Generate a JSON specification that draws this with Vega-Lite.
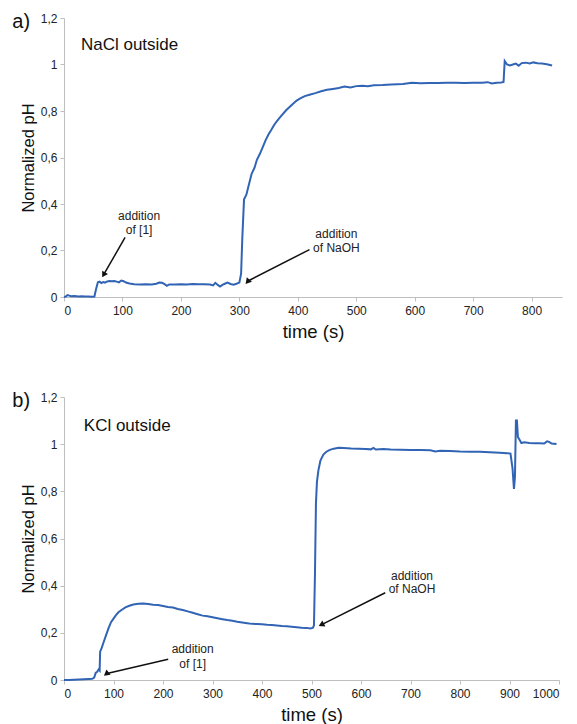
{
  "$schema": "https://vega.github.io/schema/vega-lite/v6.json",
  "padding": {"left": 12, "top": 12, "right": 5, "bottom": 0},
  "background": "white",
  "config": {
    "font": "Liberation Sans",
    "view": {"stroke": null},
    "concat": {"spacing": 50},
    "axis": {
      "grid": false,
      "domainColor": "#bfbfbf",
      "tickColor": "#bfbfbf",
      "tickSize": 4,
      "labelColor": "#222222",
      "labelFontSize": 12,
      "labelFont": "Liberation Sans",
      "titleFont": "Liberation Sans",
      "titleColor": "#111111",
      "titleFontWeight": "normal"
    }
  },
  "datasets": {
    "a": [
      {"t": 0, "v": 0.0}, {"t": 3, "v": 0.002}, {"t": 6, "v": 0.008}, {"t": 9, "v": 0.006}, {"t": 12, "v": 0.003},
      {"t": 18, "v": 0.004}, {"t": 25, "v": 0.002}, {"t": 30, "v": 0.003}, {"t": 36, "v": 0.002}, {"t": 42, "v": 0.002},
      {"t": 48, "v": 0.001}, {"t": 52, "v": 0.002}, {"t": 55, "v": 0.035}, {"t": 58, "v": 0.063}, {"t": 61, "v": 0.066},
      {"t": 64, "v": 0.06}, {"t": 67, "v": 0.064}, {"t": 70, "v": 0.062}, {"t": 74, "v": 0.067}, {"t": 78, "v": 0.069},
      {"t": 82, "v": 0.068}, {"t": 86, "v": 0.069}, {"t": 90, "v": 0.066}, {"t": 94, "v": 0.063}, {"t": 98, "v": 0.071},
      {"t": 102, "v": 0.068}, {"t": 106, "v": 0.062}, {"t": 112, "v": 0.058}, {"t": 120, "v": 0.055}, {"t": 130, "v": 0.054},
      {"t": 140, "v": 0.055}, {"t": 150, "v": 0.054}, {"t": 158, "v": 0.057}, {"t": 163, "v": 0.062}, {"t": 168, "v": 0.061},
      {"t": 172, "v": 0.055}, {"t": 176, "v": 0.048}, {"t": 180, "v": 0.054}, {"t": 190, "v": 0.054}, {"t": 200, "v": 0.055},
      {"t": 210, "v": 0.054}, {"t": 220, "v": 0.056}, {"t": 230, "v": 0.055}, {"t": 240, "v": 0.055}, {"t": 250, "v": 0.054},
      {"t": 255, "v": 0.05}, {"t": 259, "v": 0.061}, {"t": 263, "v": 0.052}, {"t": 267, "v": 0.045}, {"t": 271, "v": 0.052},
      {"t": 276, "v": 0.058}, {"t": 280, "v": 0.062}, {"t": 285, "v": 0.056}, {"t": 290, "v": 0.053}, {"t": 295, "v": 0.057},
      {"t": 300, "v": 0.062}, {"t": 303, "v": 0.1}, {"t": 305, "v": 0.25}, {"t": 308, "v": 0.42}, {"t": 312, "v": 0.44},
      {"t": 317, "v": 0.49}, {"t": 321, "v": 0.53}, {"t": 326, "v": 0.556}, {"t": 330, "v": 0.59}, {"t": 335, "v": 0.615},
      {"t": 340, "v": 0.645}, {"t": 345, "v": 0.675}, {"t": 350, "v": 0.7}, {"t": 355, "v": 0.72}, {"t": 360, "v": 0.742},
      {"t": 366, "v": 0.762}, {"t": 372, "v": 0.78}, {"t": 380, "v": 0.803}, {"t": 390, "v": 0.827}, {"t": 398, "v": 0.845},
      {"t": 405, "v": 0.855}, {"t": 412, "v": 0.864}, {"t": 420, "v": 0.87}, {"t": 430, "v": 0.877}, {"t": 440, "v": 0.885},
      {"t": 450, "v": 0.891}, {"t": 460, "v": 0.895}, {"t": 470, "v": 0.899}, {"t": 480, "v": 0.905}, {"t": 490, "v": 0.901},
      {"t": 500, "v": 0.907}, {"t": 510, "v": 0.909}, {"t": 520, "v": 0.906}, {"t": 530, "v": 0.911}, {"t": 545, "v": 0.912},
      {"t": 560, "v": 0.914}, {"t": 580, "v": 0.916}, {"t": 595, "v": 0.921}, {"t": 610, "v": 0.919}, {"t": 625, "v": 0.92},
      {"t": 640, "v": 0.92}, {"t": 655, "v": 0.921}, {"t": 670, "v": 0.921}, {"t": 685, "v": 0.92}, {"t": 700, "v": 0.922},
      {"t": 715, "v": 0.921}, {"t": 725, "v": 0.924}, {"t": 732, "v": 0.918}, {"t": 740, "v": 0.921}, {"t": 748, "v": 0.923},
      {"t": 752, "v": 0.925}, {"t": 754, "v": 1.015}, {"t": 758, "v": 1.0}, {"t": 763, "v": 0.996}, {"t": 768, "v": 1.0},
      {"t": 773, "v": 1.004}, {"t": 778, "v": 0.995}, {"t": 783, "v": 1.006}, {"t": 790, "v": 1.008}, {"t": 797, "v": 1.004},
      {"t": 803, "v": 1.009}, {"t": 810, "v": 1.005}, {"t": 818, "v": 1.004}, {"t": 826, "v": 1.001}, {"t": 835, "v": 0.996}
    ],
    "b": [
      {"t": 0, "v": 0}, {"t": 10, "v": 0}, {"t": 20, "v": 0.001}, {"t": 30, "v": 0.002}, {"t": 40, "v": 0.003},
      {"t": 50, "v": 0.004}, {"t": 57, "v": 0.005}, {"t": 61, "v": 0.01}, {"t": 64, "v": 0.03}, {"t": 67, "v": 0.035},
      {"t": 70, "v": 0.045}, {"t": 72, "v": 0.04}, {"t": 73, "v": 0.12}, {"t": 76, "v": 0.135}, {"t": 80, "v": 0.16},
      {"t": 85, "v": 0.19}, {"t": 90, "v": 0.22}, {"t": 95, "v": 0.245}, {"t": 100, "v": 0.26}, {"t": 105, "v": 0.275},
      {"t": 110, "v": 0.287}, {"t": 117, "v": 0.298}, {"t": 124, "v": 0.308}, {"t": 132, "v": 0.315}, {"t": 140, "v": 0.32},
      {"t": 150, "v": 0.323}, {"t": 160, "v": 0.324}, {"t": 170, "v": 0.322}, {"t": 180, "v": 0.319}, {"t": 190, "v": 0.318},
      {"t": 200, "v": 0.314}, {"t": 210, "v": 0.31}, {"t": 220, "v": 0.307}, {"t": 230, "v": 0.301}, {"t": 240, "v": 0.297},
      {"t": 250, "v": 0.291}, {"t": 260, "v": 0.285}, {"t": 270, "v": 0.279}, {"t": 280, "v": 0.273}, {"t": 290, "v": 0.27},
      {"t": 300, "v": 0.266}, {"t": 310, "v": 0.262}, {"t": 320, "v": 0.258}, {"t": 330, "v": 0.254}, {"t": 340, "v": 0.251},
      {"t": 350, "v": 0.247}, {"t": 360, "v": 0.244}, {"t": 370, "v": 0.241}, {"t": 380, "v": 0.238}, {"t": 390, "v": 0.237},
      {"t": 400, "v": 0.236}, {"t": 410, "v": 0.234}, {"t": 420, "v": 0.233}, {"t": 430, "v": 0.231}, {"t": 440, "v": 0.229},
      {"t": 450, "v": 0.228}, {"t": 460, "v": 0.226}, {"t": 470, "v": 0.224}, {"t": 480, "v": 0.222}, {"t": 490, "v": 0.221},
      {"t": 498, "v": 0.218}, {"t": 503, "v": 0.222}, {"t": 505, "v": 0.232}, {"t": 507, "v": 0.45}, {"t": 509, "v": 0.75},
      {"t": 511, "v": 0.84}, {"t": 514, "v": 0.89}, {"t": 518, "v": 0.93}, {"t": 524, "v": 0.956}, {"t": 530, "v": 0.968},
      {"t": 537, "v": 0.976}, {"t": 545, "v": 0.981}, {"t": 555, "v": 0.985}, {"t": 565, "v": 0.984}, {"t": 580, "v": 0.982},
      {"t": 595, "v": 0.981}, {"t": 610, "v": 0.98}, {"t": 620, "v": 0.978}, {"t": 625, "v": 0.984}, {"t": 630, "v": 0.977},
      {"t": 645, "v": 0.979}, {"t": 660, "v": 0.977}, {"t": 680, "v": 0.976}, {"t": 700, "v": 0.975}, {"t": 720, "v": 0.975},
      {"t": 740, "v": 0.974}, {"t": 750, "v": 0.969}, {"t": 760, "v": 0.972}, {"t": 780, "v": 0.971}, {"t": 800, "v": 0.969},
      {"t": 820, "v": 0.968}, {"t": 840, "v": 0.968}, {"t": 860, "v": 0.966}, {"t": 880, "v": 0.964}, {"t": 895, "v": 0.962},
      {"t": 902, "v": 0.96}, {"t": 906, "v": 0.9}, {"t": 909, "v": 0.81}, {"t": 911, "v": 0.86}, {"t": 913, "v": 1.1},
      {"t": 915, "v": 1.1}, {"t": 917, "v": 1.03}, {"t": 920, "v": 1.02}, {"t": 924, "v": 1.005}, {"t": 930, "v": 1.008},
      {"t": 940, "v": 1.005}, {"t": 950, "v": 1.004}, {"t": 960, "v": 1.004}, {"t": 970, "v": 1.003}, {"t": 976, "v": 1.012},
      {"t": 980, "v": 1.01}, {"t": 985, "v": 1.003}, {"t": 995, "v": 1.001}
    ],
    "notes": [
      {"p": "a", "t": 128.5, "v": 0.347, "txt": "addition"},
      {"p": "a", "t": 128.5, "v": 0.29, "txt": "of [1]"},
      {"p": "a", "t": 466, "v": 0.269, "txt": "addition"},
      {"p": "a", "t": 466, "v": 0.212, "txt": "of NaOH"},
      {"p": "b", "t": 260, "v": 0.13, "txt": "addition"},
      {"p": "b", "t": 260, "v": 0.066, "txt": "of [1]"},
      {"p": "b", "t": 703, "v": 0.443, "txt": "addition"},
      {"p": "b", "t": 703, "v": 0.384, "txt": "of NaOH"}
    ],
    "heads": [
      {"p": "a", "t": 29, "v": 1.086, "txt": "NaCl outside"},
      {"p": "b", "t": 40, "v": 1.075, "txt": "KCl outside"}
    ],
    "arrows": [
      {"p": "a", "id": "a1", "t": 68.6, "v": 0.099, "t2": 104.5, "v2": 0.256},
      {"p": "a", "id": "a2", "t": 315, "v": 0.069, "t2": 420, "v2": 0.204},
      {"p": "b", "id": "b1", "t": 86.8, "v": 0.028, "t2": 210.5, "v2": 0.088},
      {"p": "b", "id": "b2", "t": 521.5, "v": 0.236, "t2": 649, "v2": 0.37}
    ]
  },
  "vconcat": [
    {
      "width": 498,
      "height": 279,
      "title": {"text": "a)", "anchor": "start", "frame": "bounds", "fontSize": 20, "fontWeight": "normal", "color": "#111111", "offset": -20, "dx": -8},
      "encoding": {
        "x": {"field": "t", "type": "quantitative", "scale": {"domain": [0, 852], "nice": false},
              "axis": {"title": "time (s)", "values": [0, 100, 200, 300, 400, 500, 600, 700, 800], "labelExpr": "datum.value", "titleFontSize": 18.5, "labelPadding": 4, "titlePadding": 6}},
        "y": {"field": "v", "type": "quantitative", "scale": {"domain": [0, 1.2], "nice": false},
              "axis": {"title": "Normalized pH", "values": [0, 0.2, 0.4, 0.6, 0.8, 1, 1.2], "labelExpr": "replace(format(datum.value, '~g'), '.', ',')", "titleFontSize": 16.5, "titlePadding": 4, "labelPadding": 3}}
      },
      "layer": [
        {"data": {"name": "a"}, "mark": {"type": "line", "color": "#3164b4", "strokeWidth": 2}},
        {"data": {"name": "arrows"}, "transform": [{"filter": "datum.p == 'a'"}],
         "mark": {"type": "rule", "color": "#111111", "strokeWidth": 1.5},
         "encoding": {"x2": {"field": "t2"}, "y2": {"field": "v2"}}},
        {"data": {"name": "arrows"}, "transform": [{"filter": "datum.p == 'a'"}],
         "mark": {"type": "point", "shape": "triangle", "filled": true, "color": "#111111", "opacity": 1, "size": 45},
         "encoding": {"angle": {"field": "id", "type": "nominal", "scale": {"domain": ["a1", "a2", "b1", "b2"], "range": [210, 243, 257, 243]}, "legend": null}}},
        {"data": {"name": "notes"}, "transform": [{"filter": "datum.p == 'a'"}],
         "mark": {"type": "text", "fontSize": 12, "color": "#222222", "align": "center", "baseline": "middle"},
         "encoding": {"text": {"field": "txt"}}},
        {"data": {"name": "heads"}, "transform": [{"filter": "datum.p == 'a'"}],
         "mark": {"type": "text", "fontSize": 17, "color": "#111111", "align": "left", "baseline": "middle"},
         "encoding": {"text": {"field": "txt"}}}
      ]
    },
    {
      "width": 495,
      "height": 283,
      "title": {"text": "b)", "anchor": "start", "frame": "bounds", "fontSize": 20, "fontWeight": "normal", "color": "#111111", "offset": -20, "dx": -8},
      "encoding": {
        "x": {"field": "t", "type": "quantitative", "scale": {"domain": [0, 1000], "nice": false},
              "axis": {"title": "time (s)", "values": [0, 100, 200, 300, 400, 500, 600, 700, 800, 900, 1000], "labelExpr": "datum.value", "titleFontSize": 18.5, "labelPadding": 4, "titlePadding": 6}},
        "y": {"field": "v", "type": "quantitative", "scale": {"domain": [0, 1.2], "nice": false},
              "axis": {"title": "Normalized pH", "values": [0, 0.2, 0.4, 0.6, 0.8, 1, 1.2], "labelExpr": "replace(format(datum.value, '~g'), '.', ',')", "titleFontSize": 16.5, "titlePadding": 4, "labelPadding": 3}}
      },
      "layer": [
        {"data": {"name": "b"}, "mark": {"type": "line", "color": "#3164b4", "strokeWidth": 2}},
        {"data": {"name": "arrows"}, "transform": [{"filter": "datum.p == 'b'"}],
         "mark": {"type": "rule", "color": "#111111", "strokeWidth": 1.5},
         "encoding": {"x2": {"field": "t2"}, "y2": {"field": "v2"}}},
        {"data": {"name": "arrows"}, "transform": [{"filter": "datum.p == 'b'"}],
         "mark": {"type": "point", "shape": "triangle", "filled": true, "color": "#111111", "opacity": 1, "size": 45},
         "encoding": {"angle": {"field": "id", "type": "nominal", "scale": {"domain": ["a1", "a2", "b1", "b2"], "range": [210, 243, 257, 243]}, "legend": null}}},
        {"data": {"name": "notes"}, "transform": [{"filter": "datum.p == 'b'"}],
         "mark": {"type": "text", "fontSize": 12, "color": "#222222", "align": "center", "baseline": "middle"},
         "encoding": {"text": {"field": "txt"}}},
        {"data": {"name": "heads"}, "transform": [{"filter": "datum.p == 'b'"}],
         "mark": {"type": "text", "fontSize": 17, "color": "#111111", "align": "left", "baseline": "middle"},
         "encoding": {"text": {"field": "txt"}}}
      ]
    }
  ]
}
